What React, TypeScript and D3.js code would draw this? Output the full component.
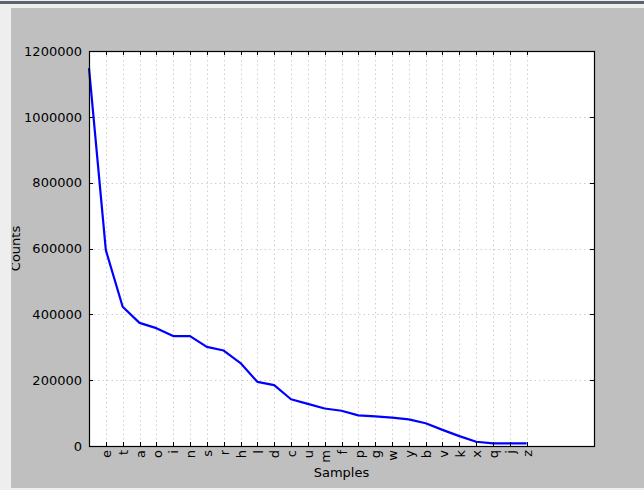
import React, { useEffect, useRef } from "react";
import * as d3 from "d3";

// letter frequency samples (first sample is the space character)
const samples = [" ", "e", "t", "a", "o", "i", "n", "s", "r", "h", "l", "d", "c", "u", "m", "f", "p", "g", "w", "y", "b", "v", "k", "x", "q", "j", "z"];
const counts = [1148000, 595000, 423000, 374000, 358000, 334000, 334000, 301000, 290000, 252000, 195000, 185000, 142000, 128000, 114000, 107000, 93000, 90000, 86000, 81000, 69000, 49000, 30000, 13000, 8000, 8000, 8000];
const yTicks = [0, 200000, 400000, 600000, 800000, 1000000, 1200000];

const App = () => {
  const svgRef = useRef<SVGSVGElement>(null);

  useEffect(() => {
    const svg = d3.select(svgRef.current);
    svg.selectAll("*").remove();

    const width = 644;
    const height = 490;
    const plot = { left: 89, right: 594, top: 51, bottom: 446 };
    const font = "DejaVu Sans, sans-serif";

    // window chrome / figure background
    svg.append("rect").attr("width", width).attr("height", height).attr("fill", "#eeeeee");
    svg.append("rect").attr("x", 0).attr("y", 1).attr("width", width).attr("height", 3).attr("fill", "#5d636b");
    svg.append("rect").attr("x", 11).attr("y", 8).attr("width", width - 11).attr("height", 480).attr("fill", "#bfbfbf");

    const x = d3.scaleLinear().domain([0, 30]).range([plot.left, plot.right]);
    const y = d3.scaleLinear().domain([0, 1200000]).range([plot.bottom, plot.top]);

    svg
      .append("rect")
      .attr("x", plot.left)
      .attr("y", plot.top)
      .attr("width", plot.right - plot.left)
      .attr("height", plot.bottom - plot.top)
      .attr("fill", "#ffffff");

    // grid
    const grid = svg.append("g").attr("stroke", "#cfcfcf").attr("stroke-width", 1).attr("stroke-dasharray", "1.5,3");
    samples.forEach((_, i) => {
      grid
        .append("line")
        .attr("x1", Math.round(x(i)) + 0.5)
        .attr("x2", Math.round(x(i)) + 0.5)
        .attr("y1", plot.top)
        .attr("y2", plot.bottom);
    });
    yTicks.forEach((t) => {
      grid
        .append("line")
        .attr("x1", plot.left)
        .attr("x2", plot.right)
        .attr("y1", Math.round(y(t)) + 0.5)
        .attr("y2", Math.round(y(t)) + 0.5);
    });

    // data line
    const line = d3
      .line<number>()
      .x((_, i) => x(i))
      .y((d) => y(d));
    svg
      .append("path")
      .datum(counts)
      .attr("fill", "none")
      .attr("stroke", "#0000ff")
      .attr("stroke-width", 2.2)
      .attr("stroke-linejoin", "round")
      .attr("d", line);

    // ticks (inside, on all four sides)
    const ticks = svg.append("g").attr("stroke", "#000").attr("stroke-width", 1);
    samples.forEach((_, i) => {
      const xp = Math.round(x(i)) + 0.5;
      ticks.append("line").attr("x1", xp).attr("x2", xp).attr("y1", plot.bottom).attr("y2", plot.bottom - 4);
      ticks.append("line").attr("x1", xp).attr("x2", xp).attr("y1", plot.top).attr("y2", plot.top + 4);
    });
    yTicks.forEach((t) => {
      const yp = Math.round(y(t)) + 0.5;
      ticks.append("line").attr("x1", plot.left).attr("x2", plot.left + 4).attr("y1", yp).attr("y2", yp);
      ticks.append("line").attr("x1", plot.right).attr("x2", plot.right - 4).attr("y1", yp).attr("y2", yp);
    });

    // frame
    svg
      .append("rect")
      .attr("x", plot.left + 0.5)
      .attr("y", plot.top + 0.5)
      .attr("width", plot.right - plot.left)
      .attr("height", plot.bottom - plot.top)
      .attr("fill", "none")
      .attr("stroke", "#000")
      .attr("stroke-width", 1.2);

    // y tick labels
    svg
      .append("g")
      .selectAll("text")
      .data(yTicks)
      .join("text")
      .attr("x", plot.left - 7)
      .attr("y", (d) => y(d))
      .attr("dy", "0.36em")
      .attr("text-anchor", "end")
      .attr("font-family", font)
      .attr("font-size", 13)
      .attr("fill", "#000")
      .text((d) => d);

    // x tick labels, vertical
    svg
      .append("g")
      .selectAll("text")
      .data(samples)
      .join("text")
      .attr("transform", (_, i) => `translate(${x(i) + 0.5},${plot.bottom + 4}) rotate(-90)`)
      .attr("dy", "0.36em")
      .attr("text-anchor", "end")
      .attr("font-family", font)
      .attr("font-size", 13)
      .attr("fill", "#000")
      .text((d) => d);

    // axis titles
    svg
      .append("text")
      .attr("x", (plot.left + plot.right) / 2)
      .attr("y", 477)
      .attr("text-anchor", "middle")
      .attr("font-family", font)
      .attr("font-size", 13)
      .attr("fill", "#000")
      .text("Samples");

    svg
      .append("defs")
      .append("clipPath")
      .attr("id", "figclip")
      .append("rect")
      .attr("x", 12)
      .attr("y", 8)
      .attr("width", width - 12)
      .attr("height", 480);

    svg
      .append("g")
      .attr("clip-path", "url(#figclip)")
      .append("text")
      .attr("transform", `translate(19.5,${(plot.top + plot.bottom) / 2}) rotate(-90)`)
      .attr("text-anchor", "middle")
      .attr("font-family", font)
      .attr("font-size", 13)
      .attr("fill", "#000")
      .text("Counts");
  }, []);

  return (
    <svg
      ref={svgRef}
      width={644}
      height={490}
      style={{ position: "absolute", left: 0, top: 0, display: "block" }}
    />
  );
};

export default App;
